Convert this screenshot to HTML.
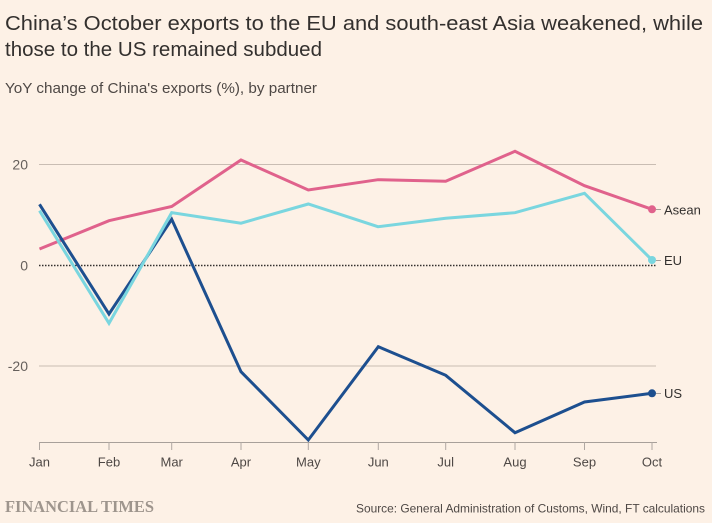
<!DOCTYPE html>
<html><head><meta charset="utf-8"><style>
html,body{margin:0;padding:0;background:#fdf1e6;}
svg{display:block;}
</style></head><body>
<svg width="712" height="523" viewBox="0 0 712 523" xmlns="http://www.w3.org/2000/svg" font-family="Liberation Sans, sans-serif">
<rect width="712" height="523" fill="#fdf1e6"/>
<text x="5" y="30" font-size="20" fill="#33302e" textLength="698" lengthAdjust="spacingAndGlyphs">China’s October exports to the EU and south-east Asia weakened, while</text>
<text x="5" y="56" font-size="20" fill="#33302e" textLength="317" lengthAdjust="spacingAndGlyphs">those to the US remained subdued</text>
<text x="5" y="93" font-size="15" fill="#4e4845" textLength="312" lengthAdjust="spacingAndGlyphs">YoY change of China's exports (%), by partner</text>
<!-- gridlines -->
<line x1="39" y1="164.5" x2="656" y2="164.5" stroke="#c9bdb3" stroke-width="1"/>
<line x1="39" y1="366" x2="656" y2="366" stroke="#c9bdb3" stroke-width="1"/>
<!-- y labels -->
<g font-size="14" fill="#66605c" text-anchor="end">
<text x="28" y="169.5">20</text>
<text x="28" y="270.5">0</text>
<text x="28" y="371">-20</text>
</g>
<!-- x axis -->
<line x1="39" y1="442.5" x2="657" y2="442.5" stroke="#a8a09a" stroke-width="1"/>
<g stroke="#b0a8a2" stroke-width="1">
<line x1="39.5" y1="442" x2="39.5" y2="450"/>
<line x1="109" y1="442" x2="109" y2="450"/>
<line x1="171.7" y1="442" x2="171.7" y2="450"/>
<line x1="241" y1="442" x2="241" y2="450"/>
<line x1="308.3" y1="442" x2="308.3" y2="450"/>
<line x1="378.3" y1="442" x2="378.3" y2="450"/>
<line x1="445.7" y1="442" x2="445.7" y2="450"/>
<line x1="515" y1="442" x2="515" y2="450"/>
<line x1="584.5" y1="442" x2="584.5" y2="450"/>
<line x1="652" y1="442" x2="652" y2="450"/>
</g>
<g font-size="13" fill="#4e4845" text-anchor="middle">
<text x="39.5" y="466.5">Jan</text>
<text x="109" y="466.5">Feb</text>
<text x="171.7" y="466.5">Mar</text>
<text x="241" y="466.5">Apr</text>
<text x="308.3" y="466.5">May</text>
<text x="378.3" y="466.5">Jun</text>
<text x="445.7" y="466.5">Jul</text>
<text x="515" y="466.5">Aug</text>
<text x="584.5" y="466.5">Sep</text>
<text x="652" y="466.5">Oct</text>
</g>
<!-- zero line dotted -->
<line x1="39" y1="265.5" x2="656" y2="265.5" stroke="#33302e" stroke-width="1.6" stroke-dasharray="1.5 1.5"/>
<!-- series -->
<g fill="none" stroke-width="3" stroke-linejoin="miter">
<polyline stroke="#e0628c" points="39.5,249 109,220.7 171.7,206.5 241,160 308.3,190 378,179.7 445.7,181.3 515,151.3 584.5,185.7 652,209.3"/>
<polyline stroke="#1d4f8f" points="39.5,204.3 109,314 171.7,219.3 241,371.7 308.3,440 378.3,346.7 445.7,375.3 515,432.7 584.5,402 652,393.3"/>
<polyline stroke="#7ad6df" points="39.5,210.7 109,323.3 171.7,212.7 241,223.2 308.3,204 378,226.7 445.7,218.3 515,212.7 584.5,193.3 652,260"/>
</g>
<!-- end dots & labels -->
<circle cx="652" cy="209.3" r="4" fill="#e0628c"/>
<circle cx="652" cy="260" r="4" fill="#7ad6df"/>
<circle cx="652" cy="393.3" r="4" fill="#1d4f8f"/>
<g stroke="#a8a09a" stroke-width="1">
<line x1="656" y1="209.5" x2="661" y2="209.5"/>
<line x1="656" y1="260.5" x2="661" y2="260.5"/>
<line x1="656" y1="393.5" x2="661" y2="393.5"/>
</g>
<g font-size="13" fill="#33302e">
<text x="664" y="214.5">Asean</text>
<text x="664" y="265">EU</text>
<text x="664" y="398">US</text>
</g>
<!-- footer -->
<text x="5" y="512" style="font-family:'Liberation Serif',serif" font-size="17" font-weight="bold" fill="#9e958d" textLength="149" lengthAdjust="spacingAndGlyphs">FINANCIAL TIMES</text>
<text x="356" y="512.5" font-size="12" fill="#4e4845" textLength="349" lengthAdjust="spacingAndGlyphs">Source: General Administration of Customs, Wind, FT calculations</text>
</svg>
</body></html>
